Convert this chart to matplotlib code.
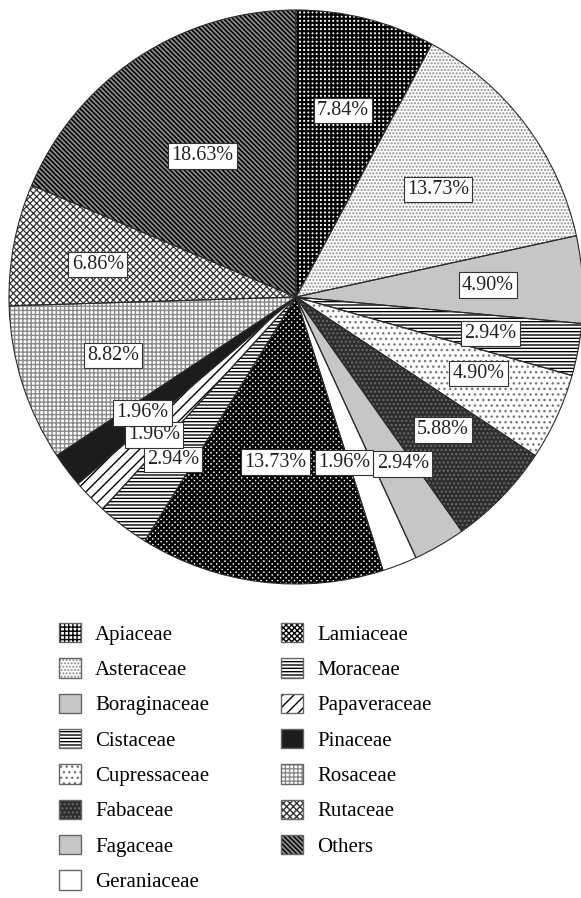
import numpy as np
import matplotlib
matplotlib.use("Agg")
import matplotlib.pyplot as plt
import matplotlib.patches as mpatches

families = ["Apiaceae", "Asteraceae", "Boraginaceae", "Cistaceae", "Cupressaceae",
            "Fabaceae", "Fagaceae", "Geraniaceae", "Lamiaceae", "Moraceae",
            "Papaveraceae", "Pinaceae", "Rosaceae", "Rutaceae", "Others"]
shares = [7.84, 13.73, 4.90, 2.94, 4.90, 5.88, 2.94, 1.96, 13.73, 2.94,
          1.96, 1.96, 8.82, 6.86, 18.63]

# fill, hatch, hatch colour, hatch width per slice
faces = ["white", "white", "#c6c6c6", "white", "white", "#2e2e2e", "#c6c6c6", "white",
         "white", "white", "white", "#1c1c1c", "white", "white", "#8a8a8a"]
hatches = ["++++", ".....", "", "-----", "...", "....", "", "",
           "xxxxxx", "-----", "///", "", "++++", "xxxxx", "\\\\\\\\\\\\\\"]
hcolors = ["black", "#8a8a8a", "#c6c6c6", "black", "#777777", "#6a6a6a", "#c6c6c6", "white",
           "black", "black", "black", "#1c1c1c", "#8a8a8a", "#333333", "black"]
hwidths = [1.6, 1.0, 1.0, 1.0, 1.0, 1.0, 1.0, 1.0, 1.7, 1.0, 1.0, 1.0, 1.0, 0.9, 1.1]
# label distance (fraction of radius) and angular nudge (deg)
lab_r = [0.67, 0.62, 0.67, 0.69, 0.69, 0.69, 0.69, 0.60, 0.58, 0.71,
         0.69, 0.67, 0.67, 0.70, 0.59]
lab_da = [0, 0, 0, 0, 2, 2, 2.6, -5, 0, 0, 0, 0, 0, 1.3, 0]

plt.rcParams["font.family"] = ["Liberation Serif", "DejaVu Serif"]
plt.rcParams["hatch.linewidth"] = 1.0

W, H = 581, 898
fig = plt.figure(figsize=(W / 100, H / 100), dpi=100)
cx, cy, R = 296, 297, 287
ax = fig.add_axes([(cx - R) / W, (H - cy - R) / H, 2 * R / W, 2 * R / H])


def style(p, fc, h, hc, hw):
    p.set_facecolor(fc)
    p.set_edgecolor(hc)
    p.set_hatch(h)
    try:
        p.set_hatch_linewidth(hw)
    except AttributeError:
        pass


wedges, _ = ax.pie(shares, startangle=90, counterclock=False, radius=1,
                   wedgeprops=dict(linewidth=0))
for w, fc, h, hc, hw in zip(wedges, faces, hatches, hcolors, hwidths):
    style(w, fc, h, hc, hw)

outline, _ = ax.pie(shares, startangle=90, counterclock=False, radius=1,
                    wedgeprops=dict(fill=False, edgecolor="#2b2b2b", linewidth=0.8))

for w, v, r, da in zip(wedges, shares, lab_r, lab_da):
    ang = np.deg2rad((w.theta1 + w.theta2) / 2 + da)
    ax.text(r * np.cos(ang), r * np.sin(ang), f"{v:.2f}%", ha="center", va="center",
            fontsize=14.5, color="#222222",
            bbox=dict(boxstyle="square,pad=0.16", facecolor="white",
                      edgecolor="#333333", linewidth=0.8))
ax.set_xlim(-1, 1)
ax.set_ylim(-1, 1)
ax.axis("off")

handles = []
for fc, h, hc, hw in zip(faces, hatches, hcolors, hwidths):
    p = mpatches.Patch(linewidth=1.0)
    style(p, fc, h, hc, hw)
    handles.append(p)
for hnd in handles:
    hc = hnd._hatch_color
    hnd.set_edgecolor("#666666")
    hnd._hatch_color = hc
fig.legend(handles, families, ncol=2, loc="upper left",
           bbox_to_anchor=(59 / W, 1 - 623 / H), frameon=False,
           fontsize=15, handlelength=1.05, handleheight=1.05,
           handletextpad=0.68, columnspacing=3.45, labelspacing=0.65,
           borderaxespad=0, borderpad=0)

fig.savefig("out.png", dpi=100)
